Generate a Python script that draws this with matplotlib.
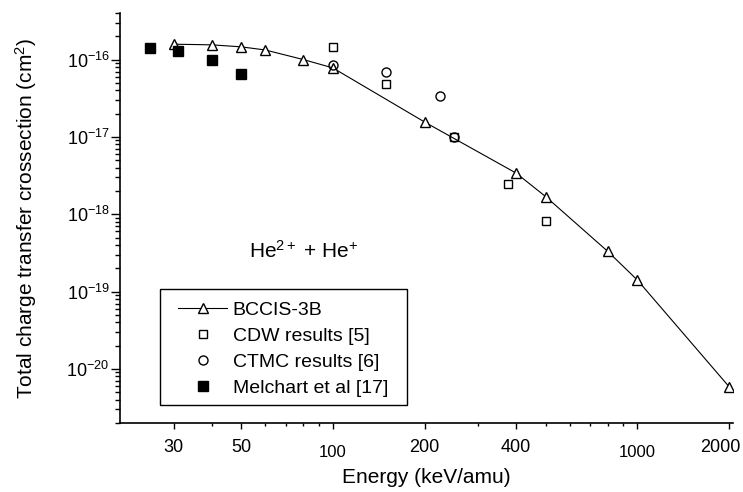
import matplotlib
matplotlib.use("Agg")
import matplotlib.pyplot as plt
from matplotlib.patches import Rectangle
from matplotlib.transforms import ScaledTranslation
from matplotlib.ticker import FixedLocator, FixedFormatter, NullFormatter

plt.rcParams['font.family'] = ['Liberation Sans', 'DejaVu Sans']
plt.rcParams['mathtext.fontset'] = 'custom'
plt.rcParams['mathtext.rm'] = 'Liberation Sans'
plt.rcParams['mathtext.it'] = 'Liberation Sans:italic'
plt.rcParams['mathtext.bf'] = 'Liberation Sans:bold'

# ---- data ----
bccis_E = [30, 40, 50, 60, 80, 100, 200, 400, 500, 800, 1000, 2000]
bccis_s = [1.58e-16, 1.55e-16, 1.46e-16, 1.33e-16, 1.0e-16, 7.8e-17,
           1.56e-17, 3.4e-18, 1.69e-18, 3.3e-19, 1.41e-19, 5.9e-21]

cdw_E = [100, 150, 250, 375, 500]
cdw_s = [1.47e-16, 4.9e-17, 1.0e-17, 2.49e-18, 8.2e-19]

ctmc_E = [100, 150, 225, 250]
ctmc_s = [8.5e-17, 6.9e-17, 3.4e-17, 1.0e-17]

mel_E = [25, 31, 40, 50]
mel_s = [1.43e-16, 1.29e-16, 1.0e-16, 6.6e-17]

xmajor = [30, 50, 100, 200, 400, 1000, 2000]
xminor = [40, 60, 70, 80, 90, 300, 500, 600, 700, 800, 900]
xlabels = ['30', '50', '100', '200', '400', '1000', '2000']

ymajor = [1e-20, 1e-19, 1e-18, 1e-17, 1e-16]
ylabels = [r'$\mathregular{10^{-20}}$', r'$\mathregular{10^{-19}}$',
           r'$\mathregular{10^{-18}}$', r'$\mathregular{10^{-17}}$',
           r'$\mathregular{10^{-16}}$']

fig = plt.figure(figsize=(7.43, 4.92), dpi=100)
ax = fig.add_axes([0.1615, 0.1402, 0.825, 0.8334])

ax.plot(bccis_E, bccis_s, color='black', lw=0.8, marker='^', ms=7.5,
        mfc='white', mec='black', mew=1.0, label='BCCIS-3B')
ax.plot(cdw_E, cdw_s, ls='none', marker='s', ms=6, mfc='none',
        mec='black', mew=1.0, label='CDW results [5]')
ax.plot(ctmc_E, ctmc_s, ls='none', marker='o', ms=6.5, mfc='none',
        mec='black', mew=1.0, label='CTMC results [6]')
ax.plot(mel_E, mel_s, ls='none', marker='s', ms=6.5, mfc='black',
        mec='black', mew=1.0, label='Melchart et al [17]')

ax.set_xscale('log')
ax.set_yscale('log')
ax.set_xlim(20, 2060)
ax.set_ylim(2e-21, 4e-16)

ax.xaxis.set_major_locator(FixedLocator(xmajor))
ax.xaxis.set_major_formatter(FixedFormatter(xlabels))
ax.xaxis.set_minor_locator(FixedLocator(xminor))
ax.xaxis.set_minor_formatter(NullFormatter())

ax.yaxis.set_major_locator(FixedLocator(ymajor))
ax.yaxis.set_major_formatter(FixedFormatter(ylabels))
yminor = [m * 10.0 ** e for e in range(-21, -15) for m in range(2, 10)]
ax.yaxis.set_minor_locator(FixedLocator(yminor))
ax.yaxis.set_minor_formatter(NullFormatter())

for s in ['top', 'right']:
    ax.spines[s].set_visible(False)
for s in ['left', 'bottom']:
    ax.spines[s].set_linewidth(1.2)

ax.tick_params(axis='x', which='major', direction='out', length=4.3, width=1.0,
               pad=7, labelsize=13)
ax.tick_params(axis='x', which='minor', direction='out', length=2.5, width=1.0)
ax.tick_params(axis='y', which='major', direction='out', length=6.5, width=1.0,
               pad=1, labelsize=13)
ax.tick_params(axis='y', which='minor', direction='out', length=3.6, width=1.0)

ax.set_xlabel('Energy (keV/amu)', fontsize=15, labelpad=6)
ax.set_ylabel(r'Total charge transfer crossection (cm$^{2}$)', fontsize=15,
              labelpad=20)

ax.text(0.21, 0.404, r'He$^{2+}$ + He$^{+}$', transform=ax.transAxes,
        fontsize=15, va='baseline', ha='left')

# legend frame
ax.add_patch(Rectangle((0.065, 0.044), 0.403, 0.283, transform=ax.transAxes,
                       fill=False, edgecolor='black', lw=1.0, zorder=5,
                       clip_on=False))
leg = ax.legend(loc='upper left', bbox_to_anchor=(0.095, 0.297),
                frameon=False, fontsize=14, handlelength=2.5,
                handletextpad=0.3, labelspacing=0.43, borderpad=0,
                borderaxespad=0)

# per-label quirks of the original tick labels
fig.canvas.draw()
for tick in ax.xaxis.get_major_ticks():
    lbl = tick.label1
    txt = lbl.get_text()
    dx, dy = 0.0, 0.0
    if txt in ('100', '1000'):
        lbl.set_fontsize(12)
        dy = -6
    if txt == '2000':
        dx = -9
    if dx or dy:
        lbl.set_transform(lbl.get_transform() +
                          ScaledTranslation(dx / 100, dy / 100,
                                            fig.dpi_scale_trans))

fig.savefig('out.png', dpi=100)
